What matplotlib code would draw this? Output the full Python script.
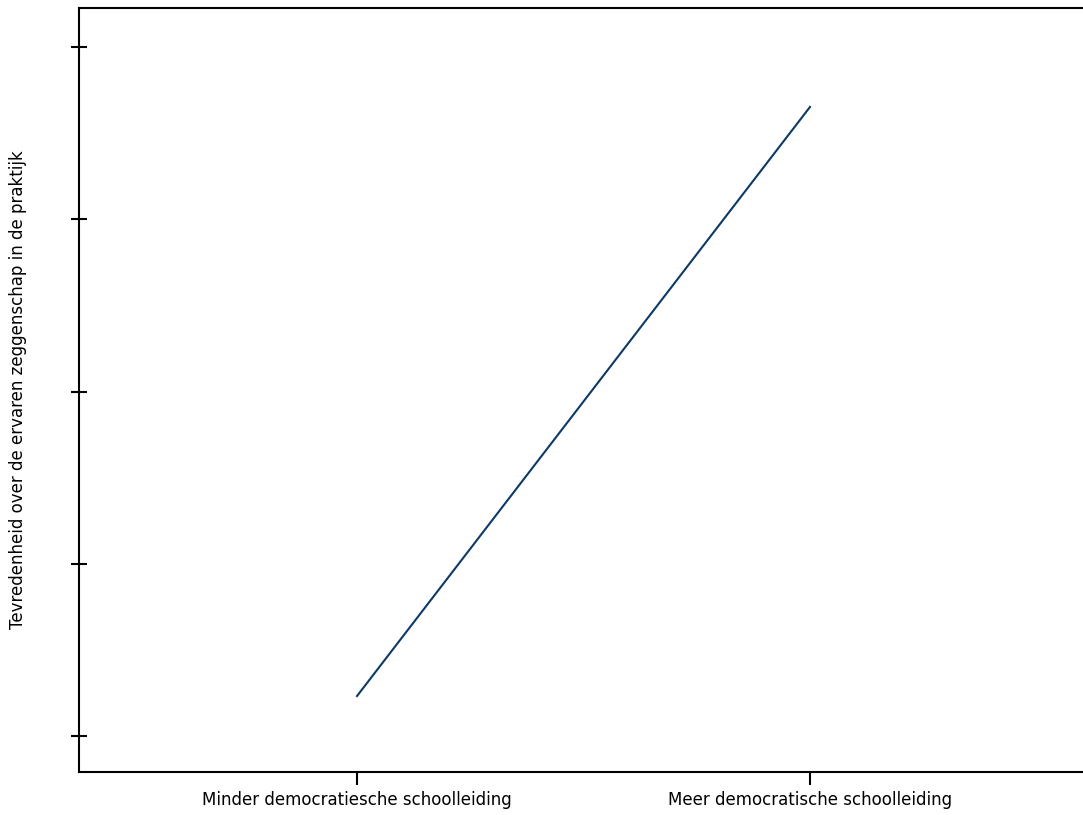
import matplotlib
matplotlib.use("Agg")
import matplotlib.pyplot as plt

# data
categories = ["Minder democratiesche schoolleiding", "Meer democratische schoolleiding"]
tevredenheid = [1.232, 4.652]
y_ticks = [1, 2, 3, 4, 5]

fig = plt.figure(figsize=(10.83, 8.15), dpi=100)
ax = fig.add_axes([79 / 1083, 43 / 815, 1 - 79 / 1083, (772 - 8) / 815])

x = list(range(len(categories)))
ax.plot(x, tevredenheid, color="#0b3a66", linewidth=1.5)

ax.set_xlim(-278 / 453, 1 + 273 / 453)
ax.set_ylim(1 - 36 / 172.25, 5 + 39 / 172.25)

ax.set_xticks(x)
ax.set_xticklabels(categories, fontsize=12)
ax.set_yticks(y_ticks)
ax.set_yticklabels([])

ax.tick_params(axis="x", direction="out", length=9, width=1.5, pad=5)
ax.tick_params(axis="y", direction="inout", length=12, width=1.5)

ax.spines["right"].set_visible(False)
for s in ["left", "top", "bottom"]:
    ax.spines[s].set_linewidth(1.5)

ax.set_ylabel("Tevredenheid over de ervaren zeggenschap in de praktijk", fontsize=12)
ax.yaxis.set_label_coords(-52 / 1004, 0.5)

fig.savefig("out.png", dpi=100)
